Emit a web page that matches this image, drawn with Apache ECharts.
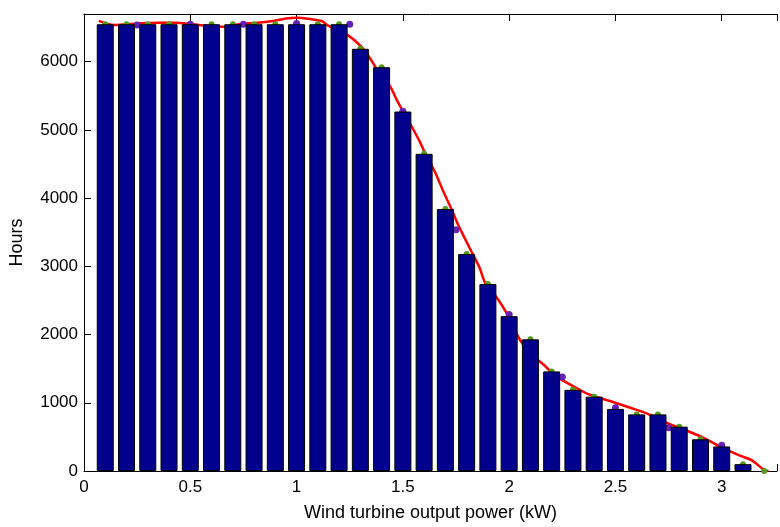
<!DOCTYPE html>
<html>
<head>
<meta charset="utf-8">
<script src="https://cdn.jsdelivr.net/npm/echarts@6/dist/echarts.min.js"></script>
<style>
html,body{margin:0;padding:0;background:#fff;}
#chart{width:780px;height:527px;}
</style>
</head>
<body>
<div id="chart"></div>
<script>
// Bar centres (kW) and hours
var barPower = [0.1,0.2,0.3,0.4,0.5,0.6,0.7,0.8,0.9,1.0,1.1,1.2,1.3,1.4,1.5,1.6,1.7,1.8,1.9,2.0,2.1,2.2,2.3,2.4,2.5,2.6,2.7,2.8,2.9,3.0,3.1];
var barHours = [6550,6550,6550,6550,6550,6550,6550,6550,6550,6550,6550,6550,6190,5920,5270,4650,3840,3180,2740,2270,1930,1460,1190,1090,910,830,830,650,465,360,100];

// Green data points
var greenPower = [0.1,0.2,0.3,0.4,0.5,0.6,0.7,0.8,0.9,1.0,1.1,1.2,1.3,1.4,1.5,1.6,1.7,1.8,1.9,2.0,2.1,2.2,2.3,2.4,2.5,2.6,2.7,2.8,2.9,3.0,3.1,3.2];
var greenHours = [6550,6550,6550,6550,6550,6550,6550,6550,6550,6550,6550,6550,6190,5920,5270,4650,3840,3180,2740,2270,1930,1460,1190,1090,910,830,830,650,465,360,100,0];

// Purple points
var purplePower = [0.25,0.5,0.75,1.0,1.25,1.5,1.75,2.0,2.25,2.5,2.75,3.0];
var purpleHours = [6540,6550,6550,6560,6550,5275,3536,2294,1377,928,633,377];

// Red fitted curve
var curvePower = [0.07,0.14,0.25,0.35,0.43,0.5,0.55,0.65,0.75,0.79,0.88,0.96,1.0,1.07,1.12,1.145,1.24,1.31,1.35,1.37,1.44,1.47,1.49,1.54,1.58,1.61,1.65,1.69,1.72,1.76,1.79,1.82,1.86,1.89,1.94,1.99,2.05,2.10,2.16,2.22,2.30,2.37,2.47,2.57,2.65,2.75,2.81,2.91,2.98,3.08,3.14,3.20,3.22];
var curveHours = [6600,6540,6560,6572,6572,6555,6535,6512,6560,6565,6594,6638,6645,6623,6594,6536,6391,6203,6029,5928,5638,5449,5333,5058,4826,4623,4391,4101,3899,3609,3420,3232,2986,2739,2551,2304,1928,1725,1565,1391,1246,1130,1029,928,841,696,623,493,377,232,159,14,0];

var xTicks = ['0','0.5','1','1.5','2','2.5','3'];
var yTicks = ['0','1000','2000','3000','4000','5000','6000'];

function pairs(xs, ys){ return xs.map(function(x,i){ return [x, ys[i]]; }); }

var FONT = '"Liberation Sans", Arial, sans-serif';
var chart = echarts.init(document.getElementById('chart'), null, {renderer:'canvas'});
chart.setOption({
  animation:false,
  backgroundColor:'#ffffff',
  grid:{left:84, right:-2, top:14, bottom:51, containLabel:false},
  xAxis:[{
    type:'value', min:0, max:3.26, interval:0.5, position:'bottom',
    name:'Wind turbine output power (kW)', nameLocation:'middle', nameGap:33,
    nameTextStyle:{fontFamily:FONT, fontSize:18, color:'#000'},
    axisLine:{show:true, lineStyle:{color:'#000', width:1}},
    axisTick:{show:true, inside:true, length:7, lineStyle:{color:'#000'}},
    axisLabel:{show:true, margin:8, fontFamily:FONT, fontSize:17, color:'#000',
      formatter:function(v){ var s = String(Math.round(v*10)/10); return xTicks.indexOf(s) >= 0 && Math.abs(v*2-Math.round(v*2))<1e-6 ? s : ''; }},
    splitLine:{show:false}
  },{
    type:'value', min:0, max:3.26, interval:0.5, position:'top',
    axisLine:{show:true, lineStyle:{color:'#000', width:1}},
    axisTick:{show:true, inside:true, length:7, lineStyle:{color:'#000'}},
    axisLabel:{show:false}, splitLine:{show:false}
  }],
  yAxis:[{
    type:'value', min:0, max:6700, interval:1000,
    name:'Hours', nameLocation:'middle', nameGap:58,
    nameTextStyle:{fontFamily:FONT, fontSize:18, color:'#000'},
    axisLine:{show:true, lineStyle:{color:'#000', width:1}},
    axisTick:{show:true, inside:true, length:7, lineStyle:{color:'#000'}},
    axisLabel:{show:true, margin:6, fontFamily:FONT, fontSize:17, color:'#000',
      formatter:function(v){ var s=String(v); return yTicks.indexOf(s)>=0 ? s : ''; }},
    splitLine:{show:false}
  }],
  series:[
    {type:'line', z:1, xAxisIndex:0, data:pairs(curvePower, curveHours), showSymbol:false, symbol:'none',
     smooth:0.3, lineStyle:{color:'#ff0000', width:2.5}},
    {type:'scatter', z:2, xAxisIndex:0, data:pairs(greenPower, greenHours), symbol:'circle', symbolSize:6,
     itemStyle:{color:'#56991c', opacity:1}},
    {type:'scatter', z:2, xAxisIndex:0, data:pairs(purplePower, purpleHours), symbol:'circle', symbolSize:7,
     itemStyle:{color:'#6520b8', opacity:1}},
    {type:'bar', z:3, xAxisIndex:0, data:pairs(barPower, barHours), barWidth:17,
     itemStyle:{color:'#00008c', borderColor:'#000', borderWidth:1}}
  ]
});
</script>
</body>
</html>
